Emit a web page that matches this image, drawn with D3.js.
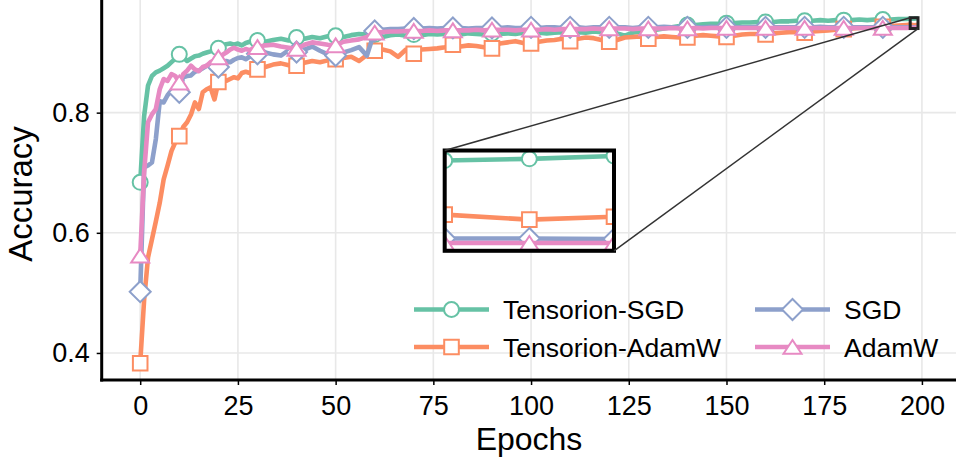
<!DOCTYPE html>
<html>
<head>
<meta charset="utf-8">
<script src="https://cdn.jsdelivr.net/npm/d3@7"></script>
<style>
body { margin: 0; background: #fff; }
svg { display: block; font-family: "Liberation Sans", Arial, sans-serif; }
</style>
</head>
<body>
<div id="chart"></div>
<script>
// epochs (every epoch to 30, then every 2nd, plus the last few)
var epochs = [0,1,2,3,4,5,6,7,8,9,10,11,12,13,14,15,16,17,18,19,20,21,22,23,24,25,26,27,28,29,30,
  32,34,36,38,40,42,44,46,48,50,52,54,56,58,60,62,64,66,68,70,72,74,76,78,80,
  82,84,86,88,90,92,94,96,98,100,102,104,106,108,110,112,114,116,118,120,
  122,124,126,128,130,132,134,136,138,140,142,144,146,148,150,152,154,156,158,160,
  162,164,166,168,170,172,174,176,178,180,182,184,186,188,190,192,194,196,197,198,199];

var tensorionSgd = [0.684,0.794,0.845,0.861,0.867,0.870,0.874,0.878,0.884,0.890,0.897,
  0.892,0.886,0.890,0.894,0.895,0.898,0.900,0.902,0.905,0.907,
  0.911,0.914,0.915,0.913,0.915,0.912,0.916,0.918,0.917,0.920,
  0.918,0.921,0.923,0.920,0.925, 0.923,0.926,0.924,0.927,0.928,
  0.926,0.929,0.931,0.930,0.930, 0.926,0.929,0.930,0.928,0.930,
  0.929,0.931,0.930,0.931,0.931, 0.930,0.932,0.931,0.930,0.932,
  0.931,0.932,0.931,0.933,0.932, 0.933,0.932,0.933,0.934,0.933,
  0.934,0.933,0.935,0.934,0.935, 0.932,0.928,0.933,0.935,0.936,
  0.938,0.940,0.942,0.944,0.946, 0.946,0.947,0.948,0.948,0.949,
  0.949,0.950,0.950,0.951,0.951, 0.951,0.952,0.952,0.953,0.953,
  0.953,0.954,0.953,0.954,0.954, 0.954,0.955,0.954,0.955,0.955,
  0.955,0.956,0.956,0.9562,0.9565,0.957];

var tensorionAdamW = [0.383,0.488,0.559,0.589,0.619,0.650,0.689,0.712,0.736,0.751,0.761,
  0.776,0.784,0.797,0.817,0.806,0.834,0.839,0.842,0.822,0.851,
  0.857,0.853,0.856,0.859,0.857,0.866,0.868,0.866,0.870,0.872,
  0.876,0.880,0.882,0.879,0.878, 0.883,0.886,0.884,0.887,0.889,
  0.891,0.893,0.886,0.896,0.903, 0.905,0.902,0.893,0.905,0.898,
  0.905,0.906,0.907,0.909,0.913, 0.910,0.912,0.911,0.909,0.907,
  0.915,0.917,0.919,0.916,0.915, 0.918,0.920,0.921,0.923,0.919,
  0.923,0.925,0.924,0.921,0.918, 0.921,0.925,0.926,0.927,0.923,
  0.926,0.927,0.926,0.925,0.925, 0.928,0.929,0.928,0.927,0.926,
  0.928,0.930,0.931,0.931,0.930, 0.932,0.933,0.934,0.934,0.933,
  0.935,0.936,0.937,0.938,0.939, 0.940,0.941,0.942,0.942,0.943,
  0.944,0.945,0.946,0.9465,0.9456,0.9461];

var sgd = [0.502,0.709,0.712,0.717,0.756,0.819,0.817,0.829,0.837,0.839,0.834,
  0.859,0.861,0.862,0.868,0.870,0.874,0.878,0.880,0.872,0.876,
  0.884,0.886,0.884,0.888,0.891,0.892,0.889,0.893,0.896,0.898,
  0.900,0.897,0.895,0.904,0.901, 0.905,0.910,0.903,0.897,0.895,
  0.900,0.904,0.909,0.895,0.936, 0.938,0.939,0.939,0.940,0.940,
  0.940,0.941,0.940,0.941,0.941, 0.941,0.940,0.941,0.941,0.941,
  0.941,0.942,0.941,0.941,0.942, 0.941,0.942,0.942,0.941,0.942,
  0.942,0.941,0.942,0.942,0.942, 0.942,0.942,0.941,0.942,0.942,
  0.942,0.943,0.942,0.942,0.942, 0.942,0.942,0.943,0.942,0.942,
  0.942,0.942,0.942,0.943,0.942, 0.942,0.942,0.942,0.942,0.942,
  0.942,0.943,0.942,0.942,0.942, 0.942,0.942,0.942,0.942,0.942,
  0.942,0.942,0.942,0.9422,0.9422,0.9421];

var adamW = [0.562,0.700,0.784,0.797,0.806,0.839,0.856,0.853,0.864,0.861,0.850,
  0.864,0.870,0.878,0.872,0.869,0.876,0.878,0.884,0.887,0.892,
  0.896,0.900,0.905,0.908,0.905,0.903,0.906,0.904,0.907,0.909,
  0.912,0.913,0.910,0.908,0.906, 0.913,0.917,0.915,0.913,0.912,
  0.918,0.920,0.922,0.926,0.933, 0.934,0.935,0.935,0.936,0.936,
  0.936,0.937,0.936,0.937,0.937, 0.937,0.937,0.938,0.937,0.938,
  0.938,0.938,0.937,0.938,0.938, 0.938,0.939,0.938,0.939,0.939,
  0.939,0.939,0.940,0.939,0.940, 0.940,0.940,0.939,0.940,0.940,
  0.940,0.940,0.941,0.940,0.940, 0.941,0.940,0.941,0.941,0.941,
  0.941,0.941,0.941,0.941,0.941, 0.941,0.941,0.941,0.941,0.941,
  0.941,0.941,0.941,0.941,0.941, 0.941,0.941,0.941,0.941,0.941,
  0.941,0.941,0.941,0.9414,0.9414,0.9414];

var seriesNames = ["Tensorion-SGD", "Tensorion-AdamW", "SGD", "AdamW"];
var seriesValues = [tensorionSgd, tensorionAdamW, sgd, adamW];
var seriesColors = ["#66c2a5", "#fc8d62", "#8da0cb", "#e78ac3"];
var seriesShapes = ["circle", "square", "diamond", "triangle"];

var xTicks = [0, 25, 50, 75, 100, 125, 150, 175, 200];
var yTicks = [0.4, 0.6, 0.8];
var markEvery = 10;

// zoomed region shown in the inset
var insetEpochs = [197, 199];
var insetAcc = [0.940, 0.958];

var W = 956, H = 463;
var svg = d3.select("#chart").append("svg").attr("width", W).attr("height", H);

var x = d3.scaleLinear().domain([-9.85, 208.95]).range([101.7, 956.9]);
var y = d3.scaleLinear().domain([0.355, 0.9875]).range([380, 0]);

function markerPath(shape) {
  if (shape == "circle") return d3.symbol(d3.symbolCircle, Math.PI * 7.5 * 7.5)();
  if (shape == "square") return "M-7.3,-7.3H7.3V7.3H-7.3Z";
  if (shape == "diamond") return "M0,-10.5L10.5,0L0,10.5L-10.5,0Z";
  return "M0,-7L9,6.8L-9,6.8Z";
}

// grid
svg.append("g").selectAll("line").data(xTicks).enter().append("line")
  .attr("x1", function (d) { return x(d); }).attr("x2", function (d) { return x(d); })
  .attr("y1", 0).attr("y2", 380)
  .style("stroke", "#e8e8e8").style("stroke-width", 1.6);
svg.append("g").selectAll("line").data(yTicks).enter().append("line")
  .attr("x1", 101.7).attr("x2", W)
  .attr("y1", function (d) { return y(d); }).attr("y2", function (d) { return y(d); })
  .style("stroke", "#e8e8e8").style("stroke-width", 1.6);

function drawSeries(g, xs, ys, every) {
  seriesValues.forEach(function (vals, i) {
    var pts = epochs.map(function (e, j) { return [e, vals[j]]; });
    g.append("path")
      .attr("d", d3.line().x(function (d) { return xs(d[0]); }).y(function (d) { return ys(d[1]); })(pts))
      .style("fill", "none")
      .style("stroke", seriesColors[i])
      .style("stroke-width", 4.6)
      .style("stroke-linejoin", "round");
    g.selectAll(null).data(pts.filter(function (d) { return d[0] % every == 0; }))
      .enter().append("path")
      .attr("d", markerPath(seriesShapes[i]))
      .attr("transform", function (d) { return "translate(" + xs(d[0]) + "," + ys(d[1]) + ")"; })
      .style("fill", "white")
      .style("stroke", seriesColors[i])
      .style("stroke-width", 2);
  });
}

drawSeries(svg.append("g"), x, y, markEvery);

// axes
var xAxis = svg.append("g").attr("transform", "translate(0,380)")
  .call(d3.axisBottom(x).tickValues(xTicks).tickSize(5).tickPadding(11));
var yAxis = svg.append("g").attr("transform", "translate(101.7,0)")
  .call(d3.axisLeft(y).tickValues(yTicks).tickFormat(d3.format(".1f")).tickSize(5).tickPadding(7));
[xAxis, yAxis].forEach(function (a) {
  a.select(".domain").remove();
  a.selectAll("line").style("stroke", "#000").style("stroke-width", 1.5);
  a.selectAll("text").style("font-size", "27px").style("font-family", "Liberation Sans, Arial, sans-serif").style("fill", "#000");
});

// spines
svg.append("line").attr("x1", 101.7).attr("x2", 101.7).attr("y1", 0).attr("y2", 381.5)
  .style("stroke", "#000").style("stroke-width", 3);
svg.append("line").attr("x1", 100.2).attr("x2", W).attr("y1", 380).attr("y2", 380)
  .style("stroke", "#000").style("stroke-width", 3);

svg.append("text").attr("x", 529).attr("y", 450).attr("text-anchor", "middle")
  .style("font-size", "32px").text("Epochs");
svg.append("text").attr("transform", "translate(32,194) rotate(-90)").attr("text-anchor", "middle")
  .style("font-size", "33px").text("Accuracy");

// inset
var ix = d3.scaleLinear().domain(insetEpochs).range([444.7, 614]);
var iy = d3.scaleLinear().domain(insetAcc).range([250.8, 150.5]);
svg.append("clipPath").attr("id", "insetClip").append("rect")
  .attr("x", 444.7).attr("y", 150.5).attr("width", 614 - 444.7).attr("height", 250.8 - 150.5);
var inset = svg.append("g").attr("clip-path", "url(#insetClip)");
drawSeries(inset, ix, iy, 1);
svg.append("rect").attr("x", 444.7).attr("y", 150.5).attr("width", 614 - 444.7).attr("height", 250.8 - 150.5)
  .style("fill", "none").style("stroke", "#000").style("stroke-width", 4);

// zoom marker in the main axes + connectors
var bx0 = x(insetEpochs[0]), bx1 = x(insetEpochs[1]), by0 = y(insetAcc[1]), by1 = y(insetAcc[0]);
svg.append("rect").attr("x", bx0).attr("y", by0).attr("width", bx1 - bx0).attr("height", by1 - by0)
  .style("fill", "none").style("stroke", "#222").style("stroke-width", 3);
svg.append("line").attr("x1", 444.7).attr("y1", 150.5).attr("x2", bx0).attr("y2", by0)
  .style("stroke", "#333").style("stroke-width", 1.5);
svg.append("line").attr("x1", 614).attr("y1", 250.8).attr("x2", bx1).attr("y2", by1)
  .style("stroke", "#333").style("stroke-width", 1.5);

// legend (2 columns)
var legendPos = [[414, 309.5], [414, 347], [755, 309.5], [755, 347]];
seriesNames.forEach(function (name, i) {
  var lx = legendPos[i][0], ly = legendPos[i][1];
  var g = svg.append("g");
  g.append("line").attr("x1", lx).attr("x2", lx + 75).attr("y1", ly).attr("y2", ly)
    .style("stroke", seriesColors[i]).style("stroke-width", 4.6);
  g.append("path").attr("d", markerPath(seriesShapes[i]))
    .attr("transform", "translate(" + (lx + 37.5) + "," + ly + ")")
    .style("fill", "white").style("stroke", seriesColors[i]).style("stroke-width", 2);
  g.append("text").attr("x", lx + 89).attr("y", ly + 9.5)
    .style("font-size", "26.5px").text(name);
});
</script>
</body>
</html>
